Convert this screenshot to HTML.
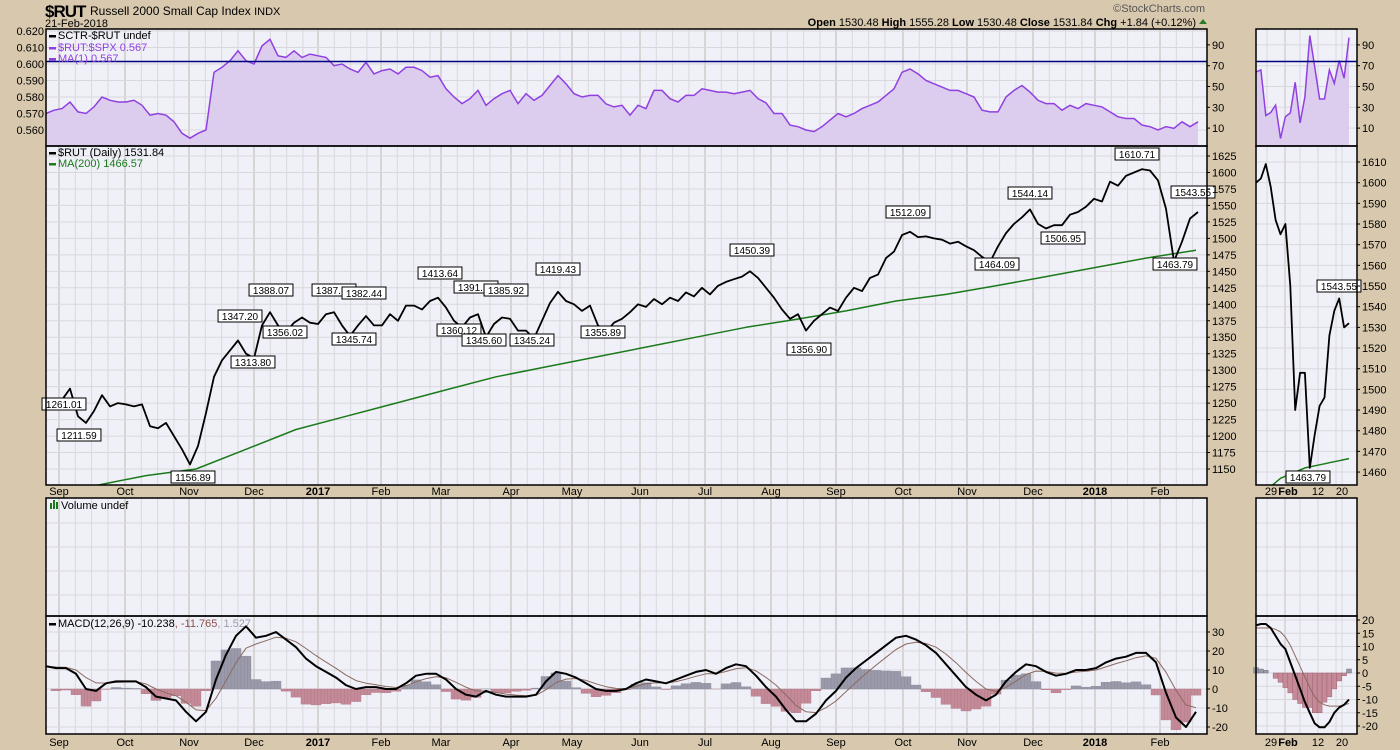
<!DOCTYPE html>
<html><head><meta charset="utf-8"><style>
html,body{margin:0;padding:0;background:#d8c9ae;width:1400px;height:750px;overflow:hidden}
svg{display:block;font-family:"Liberation Sans",sans-serif}
</style></head><body>
<svg id="c" width="1400" height="750" viewBox="0 0 1400 750">
<rect x="0" y="0" width="1400" height="750" fill="#d8c9ae"/>
<text x="45" y="17" font-size="17" font-weight="bold" style="letter-spacing:-1px">$RUT</text>
<text x="90" y="15" font-size="12">Russell 2000 Small Cap Index <tspan font-size="11">INDX</tspan></text>
<text x="45" y="27" font-size="11">21-Feb-2018</text>
<text x="1205" y="12" font-size="11" fill="#555" text-anchor="end">©StockCharts.com</text>
<text x="1196" y="26" font-size="11" text-anchor="end"><tspan font-weight="bold">Open</tspan> 1530.48 <tspan font-weight="bold">High</tspan> 1555.28 <tspan font-weight="bold">Low</tspan> 1530.48 <tspan font-weight="bold">Close</tspan> 1531.84 <tspan font-weight="bold">Chg</tspan> +1.84 (+0.12%)</text>
<path d="M1199 24 L1203 19 L1207 24 Z" fill="#2a7a2a"/>
<g id="g"></g>
</svg>
<script>
// ---- data ----
const monthLabels = ["Sep","Oct","Nov","Dec","2017","Feb","Mar","Apr","May","Jun","Jul","Aug","Sep","Oct","Nov","Dec","2018","Feb"];
const monthPos = [59,125,189,254,318,381,441,511,572,640,705,771,836,903,967,1033,1095,1160];
const miniLabels = ["29","Feb","12","20"];
const ratioValues = [0.570,0.572,0.573,0.577,0.571,0.570,0.574,0.580,0.578,0.577,0.577,0.578,0.575,0.569,0.570,0.569,0.565,0.558,0.555,0.558,0.560,0.595,0.598,0.602,0.608,0.602,0.600,0.611,0.615,0.605,0.604,0.608,0.604,0.606,0.605,0.604,0.599,0.600,0.597,0.595,0.601,0.594,0.596,0.597,0.594,0.598,0.598,0.596,0.592,0.593,0.585,0.580,0.576,0.579,0.584,0.575,0.579,0.582,0.584,0.576,0.582,0.578,0.581,0.587,0.593,0.588,0.582,0.580,0.581,0.581,0.5758,0.574,0.575,0.569,0.575,0.573,0.584,0.584,0.579,0.577,0.581,0.581,0.585,0.584,0.583,0.583,0.582,0.583,0.584,0.579,0.5765,0.570,0.570,0.563,0.562,0.560,0.559,0.562,0.566,0.570,0.568,0.570,0.573,0.575,0.577,0.581,0.585,0.595,0.597,0.594,0.590,0.588,0.586,0.584,0.584,0.582,0.580,0.572,0.571,0.571,0.580,0.584,0.587,0.583,0.578,0.576,0.576,0.572,0.575,0.573,0.576,0.575,0.574,0.571,0.568,0.567,0.567,0.563,0.562,0.560,0.562,0.561,0.565,0.562,0.565];
const priceValues = [1250,1255,1255,1272,1230,1220,1238,1262,1245,1250,1248,1245,1248,1215,1212,1220,1200,1180,1157,1185,1235,1290,1315,1330,1345,1325,1318,1368,1388,1368,1358,1372,1380,1372,1370,1385,1388,1368,1352,1368,1382,1368,1368,1385,1375,1398,1398,1392,1405,1410,1395,1375,1365,1380,1385,1350,1370,1380,1378,1360,1360,1348,1375,1402,1419,1405,1400,1390,1398,1368,1358,1372,1378,1388,1400,1396,1408,1400,1410,1405,1418,1412,1425,1415,1428,1434,1438,1442,1450,1440,1425,1410,1392,1378,1385,1360,1375,1385,1395,1390,1410,1425,1420,1440,1445,1470,1480,1505,1510,1502,1503,1500,1498,1492,1495,1488,1482,1472,1464,1488,1508,1522,1532,1544,1522,1515,1520,1520,1536,1540,1548,1560,1556,1586,1580,1595,1600,1605,1603,1588,1545,1465,1495,1530,1540];
const maValues = [1110,1125,1140,1150,1180,1210,1230,1250,1270,1290,1305,1320,1335,1350,1365,1377,1390,1405,1415,1428,1442,1456,1470,1482];
const macdValues = [12,11,11,8,0,-1,3,4,4,4,1,-4,-5,-6,-12,-17,-12,5,18,28,33,27,28,30,26,22,16,12,9,6,2,0,1,1,0,0,3,7,8,8,5,0,-3,-4,-1,-3,-4,-4,-4,-3,4,9,8,6,3,0,-1,-1,0,3,5,4,3,5,7,9,10,8,11,13,12,7,1,-4,-11,-17,-17,-13,-6,-1,6,11,15,19,23,27,28,26,23,19,13,7,1,-3,-6,-3,4,9,13,12,9,7,8,10,10,11,14,16,17,19,19,14,-2,-15,-20,-12];
const miniRatio = [64,66,22,25,32,0,21,24.5,54,15,40,99,69,38,38,66,53,75,58,97];
const miniPrice = [1600,1602,1609,1598,1582,1575,1580,1550,1490,1508,1508,1462,1478,1492,1496,1526,1538,1544,1530,1532];
const miniMA = [1447,1449,1451,1453,1455,1457,1458,1459,1460,1461,1462,1462.5,1463,1463.5,1464,1464.5,1465,1465.5,1466,1466.5];
const miniMacd = [18,18.5,18.5,17,14,11,9,4,-1,-6,-11,-15,-19,-20.5,-20.5,-18.5,-15,-13,-12,-10];
const miniSignal = [17,17,17,17,16.5,15.5,13.5,10.5,6.5,2.5,-1.5,-5.5,-9,-11,-12,-12.5,-12.5,-12.5,-12,-11.5];
const miniHist = [2,1.5,1,0,-2,-3.5,-5.5,-7.5,-10,-11.5,-13,-13,-15,-15,-11,-9,-6,-3,-1,1.5];
const ratioTicks = [0.620,0.610,0.600,0.590,0.580,0.570,0.560];
const sctrTicks = [90,70,50,30,10];
const priceTicks = [1625,1600,1575,1550,1525,1500,1475,1450,1425,1400,1375,1350,1325,1300,1275,1250,1225,1200,1175,1150];
const miniPriceTicks = [1610,1600,1590,1580,1570,1560,1550,1540,1530,1520,1510,1500,1490,1480,1470,1460];
const macdTicks = [30,20,10,0,-10,-20];
const miniMacdTicks = [20,15,10,5,0,-5,-10,-15,-20];
const annotations = [["1261.01",64,404],["1211.59",79,435],["1156.89",193,477],["1347.20",240,316],["1313.80",253,362],["1388.07",271,290],["1356.02",285,332],["1387.95",334,290],["1345.74",354,339],["1382.44",364,293],["1413.64",440,273],["1360.12",459,330],["1391.52",476,287],["1345.60",484,340],["1385.92",506,290],["1345.24",532,340],["1419.43",558,269],["1355.89",603,332],["1450.39",752,250],["1356.90",809,349],["1512.09",908,212],["1464.09",997,264],["1544.14",1030,193],["1506.95",1063,238],["1610.71",1137,154],["1463.79",1175,264],["1543.55",1193,192],["1543.55",1339,286],["1463.79",1308,477]];

// ---- layout ----
const NS="http://www.w3.org/2000/svg";
const G=document.getElementById('g');
function el(t,a,p){const e=document.createElementNS(NS,t);for(const k in a)e.setAttribute(k,a[k]);(p||G).appendChild(e);return e;}
const L=46,R=1207,ML=1256,MR=1357;
const P={top:[29,146],price:[146,485],vol:[498,616],macd:[616,734]};
const xMain=(i,n)=>L+i*(1198-L)/(n-1);
const xMini=(i,n)=>ML+i*(1349-ML)/(n-1);
const yRatio=v=>31+(0.620-v)*1650;
const ySctr=v=>138.5-v*1.04;
const yPrice=v=>156+(1625-v)*0.659;
const yMiniP=v=>162+(1610-v)*2.067;
const yMacd=v=>689-v*1.9;
const yMiniM=v=>673-v*2.65;

function panel(x0,x1,y0,y1,name){
  const r=el('rect',{x:x0,y:y0,width:x1-x0,height:y1-y0,fill:'#f0f0f8'});
  
  
}
for(const k in P){panel(L,R,P[k][0],P[k][1],k+'-panel');panel(ML,MR,P[k][0],P[k][1],'mini-'+k+'-panel');}
for(let m=0;m<monthPos.length;m++){
  const x=monthPos[m];
  for(let q=1;q<4;q++){const xm=x+q*16.3;if(xm<R){for(const k in P){el('line',{x1:xm,x2:xm,y1:P[k][0],y2:P[k][1],stroke:'#d8d8dc','stroke-width':1});}}}
  if(m===0){for(let q=1;q<4;q++){const xm=x-q*16.3;if(xm>L)for(const k in P)el('line',{x1:xm,x2:xm,y1:P[k][0],y2:P[k][1],stroke:'#d8d8dc'});}}
  for(const k in P){el('line',{x1:x,x2:x,y1:P[k][0],y2:P[k][1],stroke:'#c6c2bc','stroke-width':1.2});}
}
const miniPos=[1267,1285,1318,1342];
for(let i=0;i<miniPos.length;i++){for(const k in P)el('line',{x1:miniPos[i],x2:miniPos[i],y1:P[k][0],y2:P[k][1],stroke:i==1?'#c6c2bc':'#d8d8dc'});}
for(let x=1300;x<1357;x+=36)for(const k in P)el('line',{x1:x,x2:x,y1:P[k][0],y2:P[k][1],stroke:'#d8d8dc'});
function hgrid(ys,x0,x1){ys.forEach(y=>el('line',{x1:x0,x2:x1,y1:y,y2:y,stroke:'#d8d8dc'}));}
hgrid(ratioTicks.map(yRatio),L,R);
hgrid(sctrTicks.map(ySctr),ML,MR);
hgrid(priceTicks.map(yPrice),L,R);
hgrid(miniPriceTicks.map(yMiniP),ML,MR);
hgrid([523,547,571,595],L,R);hgrid([523,547,571,595],ML,MR);
hgrid(macdTicks.map(yMacd),L,R);
hgrid(miniMacdTicks.map(yMiniM),ML,MR);

function areaLine(vals,xf,yf,yb,name){
  let d='';vals.forEach((v,i)=>{d+=(i?'L':'M')+xf(i,vals.length).toFixed(1)+' '+yf(v).toFixed(1);});
  const a=el('path',{d:d+`L${xf(vals.length-1,vals.length)} ${yb}L${xf(0,vals.length)} ${yb}Z`,fill:'#dccdee'});
  
  
  const l=el('path',{d:d,fill:'none',stroke:'#9040e0','stroke-width':1.5});
  
  
}
areaLine(ratioValues,xMain,yRatio,146,'ratio');
areaLine(miniRatio,xMini,ySctr,146,'mini-sctr');
el('line',{x1:L,x2:R,y1:61.5,y2:61.5,stroke:'#000080','stroke-width':1.5});
el('line',{x1:ML,x2:MR,y1:61.5,y2:61.5,stroke:'#000080','stroke-width':1.5});

function line(vals,xf,yf,color,w,name,clip){
  let d='';vals.forEach((v,i)=>{d+=(i?'L':'M')+xf(i,vals.length).toFixed(1)+' '+yf(v).toFixed(1);});
  const p=el('path',{d:d,fill:'none',stroke:color,'stroke-width':w,'stroke-linejoin':'round'});
  if(clip)p.setAttribute('clip-path','url(#'+clip+')');
  
  
}
const defs=el('defs',{});
const cp1=el('clipPath',{id:'cpMain'},defs);el('rect',{x:L,y:146,width:R-L,height:339},cp1);
const cp2=el('clipPath',{id:'cpMini'},defs);el('rect',{x:ML,y:146,width:MR-ML,height:339},cp2);
const cp3=el('clipPath',{id:'cpMacd'},defs);el('rect',{x:L,y:616,width:R-L,height:118},cp3);
line(maValues,(i,n)=>L+i*50,yPrice,'#1a7a1a',1.5,'ma200-line','cpMain');
line(priceValues,xMain,yPrice,'#000',1.8,'price-line','cpMain');
line(miniMA,xMini,yMiniP,'#1a7a1a',1.5,'mini-ma200-line','cpMini');
line(miniPrice,xMini,yMiniP,'#000',1.8,'mini-price-line','cpMini');

// MACD
const sig=[];macdValues.forEach((v,i)=>sig.push(i?sig[i-1]+0.4*(v-sig[i-1]):v));
const hist=macdValues.map((v,i)=>(v-sig[i])*1.5);
const bw=(1196-L)/(macdValues.length-1);
hist.forEach((h,i)=>{
  const x=L+i*bw, y0=yMacd(0), y1=yMacd(h);
  for(let s=0;s<3;s++){
    const b=el('rect',{x:x-bw/2+s*bw/3,y:Math.min(y0,y1),width:bw/3,height:Math.abs(y1-y0),fill:h>=0?'#9a9aaa':'#c48a98',stroke:h>=0?'#8a8a9a':'#b07888','stroke-width':0.4,'clip-path':'url(#cpMacd)'});
    
    
  }
});
line(sig,(i,n)=>L+i*bw,yMacd,'#8a6a60',1,'macd-signal-line','cpMacd');
line(macdValues,(i,n)=>L+i*bw,yMacd,'#000',2,'macd-line','cpMacd');
const mbw=(1349-ML)/(miniHist.length-1);
miniHist.forEach((h,i)=>{
  const x=xMini(i,miniHist.length), y0=yMiniM(0), y1=yMiniM(h);
  const b=el('rect',{x:x-mbw/2,y:Math.min(y0,y1),width:mbw,height:Math.abs(y1-y0),fill:h>=0?'#9a9aaa':'#c48a98',stroke:h>=0?'#707080':'#a06070','stroke-width':0.5});
  
  
});
line(miniSignal,xMini,yMiniM,'#8a6a60',1,'mini-macd-signal-line');
line(miniMacd,xMini,yMiniM,'#000',2,'mini-macd-line');

annotations.forEach(a=>{
  const w=a[0].length*5.7+4;
  const r=el('rect',{x:a[1]-w/2,y:a[2]-6,width:w,height:12,fill:'#fff',stroke:'#000','stroke-width':1});
  
  
  const t=el('text',{x:a[1],y:a[2]+4,'font-size':10,'text-anchor':'middle'});t.textContent=a[0];
  
  
});

for(const k in P){
  el('rect',{x:L,y:P[k][0],width:R-L,height:P[k][1]-P[k][0],fill:'none',stroke:'#000','stroke-width':1.5});
  el('rect',{x:ML,y:P[k][0],width:MR-ML,height:P[k][1]-P[k][0],fill:'none',stroke:'#000','stroke-width':1.5});
}

function axis(ticks,yf,x,fmt,name){ticks.forEach(v=>{
  const t=el('text',{x:x,y:yf(v)+4,'font-size':11});t.textContent=fmt(v);
  
  
  el('line',{x1:x-5,x2:x-2,y1:yf(v),y2:yf(v),stroke:'#000'});
});}
ratioTicks.forEach(v=>{const t=el('text',{x:44,y:yRatio(v)+4,'font-size':11,'text-anchor':'end'});t.textContent=v.toFixed(3);
  
  });
axis(sctrTicks,ySctr,1212,v=>v,'sctr-axis-label');
axis(sctrTicks,ySctr,1362,v=>v,'mini-sctr-axis-label');
axis(priceTicks,yPrice,1212,v=>v,'price-axis-label');
axis(miniPriceTicks,yMiniP,1362,v=>v,'mini-price-axis-label');
axis(macdTicks,yMacd,1212,v=>v,'macd-axis-label');
axis(miniMacdTicks,yMiniM,1362,v=>v,'mini-macd-axis-label');
[495,746].forEach(y=>{
  monthLabels.forEach((m,i)=>{const t=el('text',{x:monthPos[i],y:y,'font-size':11,'text-anchor':'middle','font-weight':/^20/.test(m)?'bold':'normal'});t.textContent=m;
    
    });
  miniLabels.forEach((m,i)=>{const t=el('text',{x:[1271,1288,1318,1342][i],y:y,'font-size':11,'text-anchor':'middle','font-weight':m==='Feb'?'bold':'normal'});t.textContent=m;
    
    });
});

function legend(x,y,txt,color,name){
  el('rect',{x:x,y:y-4,width:7,height:2.5,fill:color});
  const t=el('text',{x:x+9,y:y,'font-size':11,fill:color});t.textContent=txt;
  
  
}
legend(49,39,'SCTR-$RUT undef','#000','legend-sctr');
legend(49,51,'$RUT:$SPX 0.567','#9040e0','legend-ratio');
legend(49,62,'MA(1) 0.567','#9040e0','legend-ma1');
legend(49,156,'$RUT (Daily) 1531.84','#000','legend-price');
legend(49,167,'MA(200) 1466.57','#1a7a1a','legend-ma200');
el('rect',{x:50,y:503,width:2,height:6,fill:'#1a7a1a'});el('rect',{x:53,y:500,width:2,height:9,fill:'#1a7a1a'});el('rect',{x:56,y:502,width:2,height:7,fill:'#1a7a1a'});
const vt=el('text',{x:61,y:509,'font-size':11});vt.textContent='Volume undef';


el('rect',{x:49,y:623,width:7,height:2.5,fill:'#000'});
const mt=el('text',{x:58,y:627,'font-size':11});
mt.innerHTML='MACD(12,26,9) -10.238<tspan fill="#8a5050">, -11.765</tspan><tspan fill="#9a9aaa">, 1.527</tspan>';


</script>
</body></html>
